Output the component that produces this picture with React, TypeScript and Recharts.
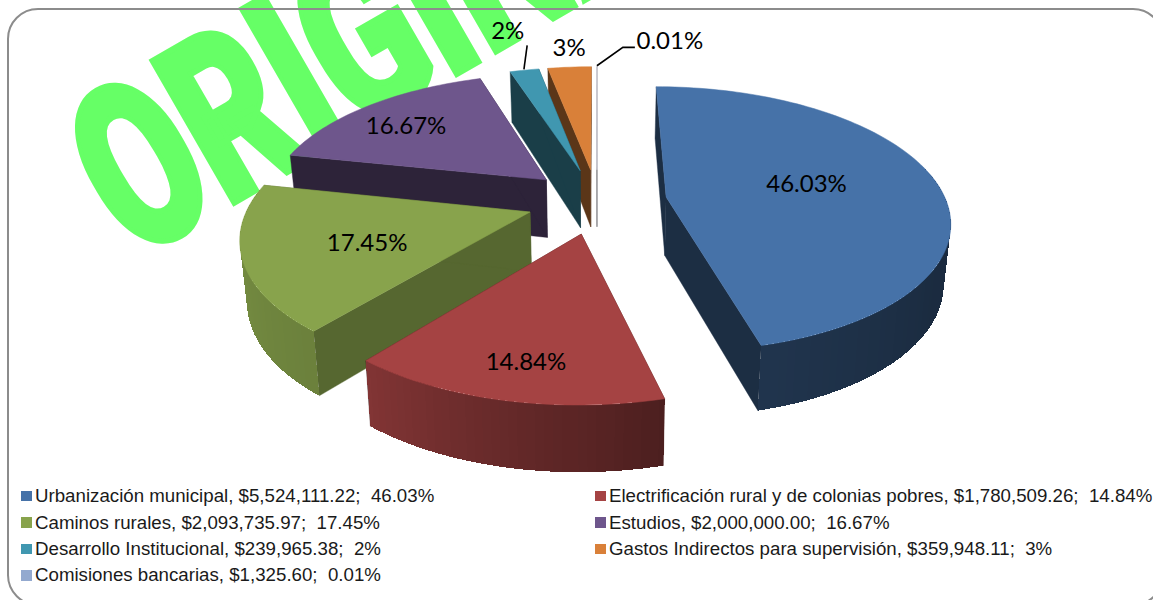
import React from "react";
import { PieChart, Pie, Legend } from "recharts";

const categories = ["Urbanización municipal", "Electrificación rural y de colonias pobres", "Caminos rurales", "Estudios", "Desarrollo Institucional", "Gastos Indirectos para supervisión", "Comisiones bancarias"];
const amounts = [5524111.22, 1780509.26, 2093735.97, 2000000.0, 239965.38, 359948.11, 1325.6];
const percentLabels = ["46.03%", "14.84%", "17.45%", "16.67%", "2%", "3%", "0.01%"];
const colors = ["#4672a8", "#a54343", "#88a34c", "#6e568c", "#4097b0", "#d98039", "#e9e6f3"];
const legendColors = ["#4672a8", "#a54343", "#88a34c", "#6e568c", "#4097b0", "#d98039", "#93a9cf"];
const wallShades = [0.4, 0.45, 0.63, 0.41, 0.41, 0.42, 0.5];
const labelRadii = [0.53, 0.79, 0.585, 0.75, 1.49, 1.24, 1.36];
const labelTurn = [-5, -1, -2, -1.5, 1, 0.8, 14];

// Pie is fed back to front: the last slice first, so nearer slices paint over farther ones.
const rows = categories.map((name, i) => ({ name, value: amounts[i], idx: i })).reverse();

const EXPLODE = 0.25, PERSP = 0.167, TILT = 0.464;
const rad = (d: number) => (d * Math.PI) / 180;

function darken(hex: string, k: number) {
  const n = parseInt(hex.slice(1), 16);
  const c = [(n >> 16) & 255, (n >> 8) & 255, n & 255].map((v) => Math.round(v * k));
  return `rgb(${c[0]},${c[1]},${c[2]})`;
}
// outer wall brightness by clockwise angle from the top
function outerShade(t: number) {
  const stops = [[60, 0.38], [120, 0.38], [166, 0.46], [219, 0.79], [282, 0.9], [360, 0.5]];
  for (let i = 1; i < stops.length; i++) {
    if (t <= stops[i][0]) {
      const [a, s] = stops[i - 1], [b, u] = stops[i];
      return s + ((u - s) * (Math.max(t, a) - a)) / (b - a);
    }
  }
  return 0.5;
}

function Slice3D(props: any) {
  const { cx, cy, outerRadius: R, startAngle, endAngle, payload } = props;
  const idx: number = payload?.idx ?? props.idx;
  const lo = 90 - Math.max(startAngle, endAngle);
  const hi = 90 - Math.min(startAngle, endAngle);
  const mid = (lo + hi) / 2;
  const ox = EXPLODE * Math.sin(rad(mid));
  const oy = EXPLODE * Math.cos(rad(mid));
  const proj = (X: number, Y: number, down = false): [number, number] => {
    const w = 1 + PERSP * Y;
    const d = down ? 58.7 - 6.85 * Y : 0;
    return [cx + ((R * X) / w) * (down ? 0.98 : 1), cy - (R * TILT * Y) / w + d];
  };
  const rim = (t: number, r = 1, down = false) => proj(ox + r * Math.sin(rad(t)), oy + r * Math.cos(rad(t)), down);
  const pts = (a: [number, number][]) => a.map((p) => `${p[0].toFixed(2)},${p[1].toFixed(2)}`).join(" ");
  const fill = colors[idx];
  const wall = darken(fill, wallShades[idx]);
  const steps = Math.max(1, Math.ceil((hi - lo) / 1.5));
  const ts = Array.from({ length: steps + 1 }, (_, i) => lo + ((hi - lo) * i) / steps);
  const apex = proj(ox, oy), apexD = proj(ox, oy, true);
  const strips: React.ReactNode[] = [];
  const order = ts.slice(0, -1).map((t, i) => ({ t, i })).sort((a, b) => Math.abs(b.t - 180) - Math.abs(a.t - 180));
  order.forEach(({ t, i }) => {
    const u = ts[i + 1];
    const m = (t + u) / 2;
    if (m < 78 || m > 279) return;
    const c = darken(fill, outerShade(m));
    // each strip overlaps its neighbour's span so no seam shows between them
    const a = Math.max(lo, t - 0.6), b = Math.min(hi, u + 0.6);
    strips.push(<polygon key={i} points={pts([rim(a), rim(b), rim(b, 1, true), rim(a, 1, true)])} fill={c} shapeRendering="crispEdges" />);
  });
  const top: [number, number][] = [apex, ...ts.map((t) => rim(t))];
  const lt = mid + labelTurn[idx];
  const lr = labelRadii[idx];
  const lp = rim(lt, lr);
  let leader: [number, number][] | null = null;
  if (idx === 4) leader = [rim(mid, 1.01), rim(mid + 3.2, 1.28)];
  if (idx === 6) leader = [rim(mid, 1.01), [lp[0] - 47, lp[1] + 8], [lp[0] - 35, lp[1] + 8]];
  return (
    <g>
      <polygon points={pts([apex, rim(lo), rim(lo, 1, true), apexD])} fill={wall} stroke={wall} strokeWidth={0.4} />
      <polygon points={pts([apex, rim(hi), rim(hi, 1, true), apexD])} fill={wall} stroke={wall} strokeWidth={0.4} />
      {strips}
      <polygon points={pts(top)} fill={fill} stroke={fill} strokeWidth={0.5} />
      {leader && <polyline points={pts(leader)} fill="none" stroke="#000" strokeWidth={1.6} />}
      <text x={lp[0]} y={lp[1]} textAnchor="middle" dominantBaseline="central" fontFamily="Lato, 'Open Sans', sans-serif" fontSize={24} fill="#000">
        {percentLabels[idx]}
      </text>
    </g>
  );
}

function legendText(i: number) {
  const money = amounts[i].toLocaleString("en-US", { minimumFractionDigits: 2, maximumFractionDigits: 2 });
  return `${categories[i]}, $${money};  ${percentLabels[i]}`;
}

function LegendBlock() {
  return (
    <div style={{ display: "grid", gridTemplateColumns: "574px 558px", rowGap: 0, fontFamily: "'Liberation Sans', Arial, sans-serif", fontSize: 18.7, color: "#1a1a1a" }}>
      {categories.map((_, i) => (
        <div key={i} style={{ display: "flex", alignItems: "center", height: 26.4, whiteSpace: "pre" }}>
          <span style={{ width: 10.5, height: 10.5, background: legendColors[i], marginRight: 3.5, flex: "none" }} />
          {legendText(i)}
        </div>
      ))}
    </div>
  );
}

export default function App() {
  return (
    <div style={{ position: "absolute", left: 0, top: 0, width: 1153, height: 600, overflow: "hidden", background: "#fff" }}>
      <svg width={1153} height={600} style={{ position: "absolute", left: 0, top: 0 }}>
        <text transform="translate(133,261) rotate(-30) scale(0.678,1)" fontFamily="Roboto, 'Liberation Sans'" fontWeight={900} fontSize={230} fill="#66ff66" stroke="#66ff66" strokeWidth={6}>
          ORIGINAL
        </text>
        <rect x={8} y={9} width={1155} height={596} rx={30} ry={30} fill="none" stroke="#8c8c8c" strokeWidth={2} />
      </svg>
      <div style={{ position: "absolute", left: 0, top: 0 }}>
        <PieChart width={1153} height={600} margin={{ top: 0, right: 0, bottom: 0, left: 0 }}>
          <Pie data={rows} dataKey="value" nameKey="name" cx={597} cy={201} outerRadius={280} innerRadius={0} startAngle={-270} endAngle={90} stroke="none" isAnimationActive={false} shape={Slice3D} activeShape={Slice3D} inactiveShape={Slice3D} />
          <Legend content={LegendBlock} wrapperStyle={{ position: "absolute", left: 21, top: 483, width: 1132, height: 110 }} />
        </PieChart>
      </div>
    </div>
  );
}
